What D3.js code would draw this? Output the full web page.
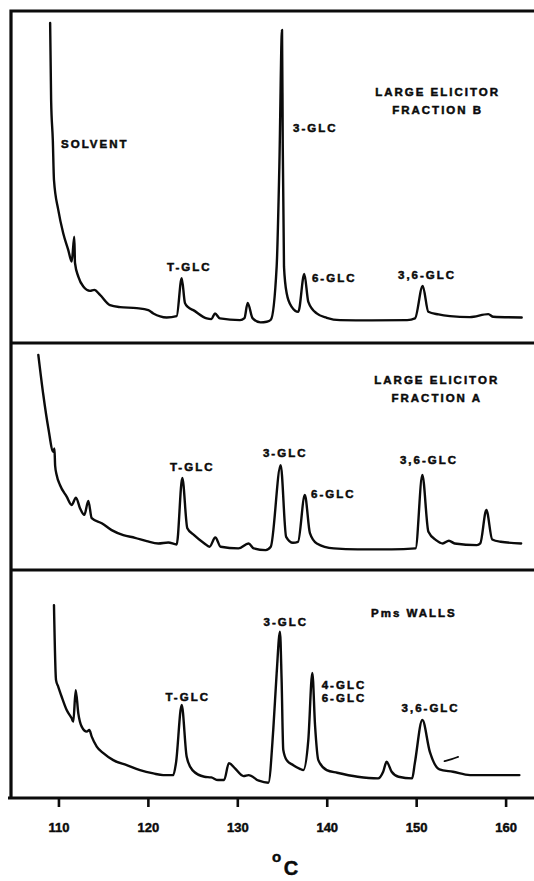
<!DOCTYPE html>
<html>
<head>
<meta charset="utf-8">
<script src="https://cdn.jsdelivr.net/npm/d3@7/dist/d3.min.js"></script>
<style>
  html, body { margin: 0; padding: 0; background: #fff; }
  svg { display: block; }
  .lbl {
    font-family: 'Liberation Sans', Arial, Helvetica, sans-serif;
    font-weight: bold;
    font-size: 11.5px;
    letter-spacing: 2.0px;
    fill: #0b0b0b;
    stroke: #0b0b0b;
    stroke-width: 0.5px;
  }
  .heavy { stroke: #0b0b0b; stroke-width: 0.45px; }
</style>
</head>
<body>
<svg id="chart" width="534" height="881"></svg>
<script>
// Column temperature (°C) and detector response (% of top-panel full scale)

// Large elicitor, fraction B
const traceFractionB = [
  [109.07, 96.4], [109.18, 73.2], [109.37, 61.1], [109.50, 49.1], [109.98, 40.1], [110.54, 33.0],
  [111.10, 28.0], [111.48, 24.5], [111.77, 32.0], [111.85, 24.1], [112.22, 20.0],
  [112.78, 17.0], [113.53, 15.7], [114.01, 16.0], [114.65, 14.5], [115.76, 11.4],
  [116.88, 10.8], [118.75, 10.5], [120.05, 9.9], [120.61, 8.9], [122.10, 7.7],
  [123.22, 8.1], [123.78, 19.5], [124.15, 12.0], [124.50, 10.8], [125.08, 9.9],
  [126.58, 7.4], [127.10, 7.2], [127.50, 8.9], [128.06, 7.4], [130.30, 6.9],
  [130.80, 7.5], [131.16, 12.1], [131.70, 7.5], [132.60, 6.2], [133.29, 6.4],
  [133.75, 7.0], [134.40, 23.0], [134.70, 53.1], [135.00, 94.3], [135.08, 60.2],
  [135.22, 23.0], [135.52, 15.0], [136.08, 10.9], [136.82, 9.4], [137.49, 20.8],
  [137.94, 12.4], [138.88, 8.9], [140.00, 7.6], [141.49, 6.9], [145.00, 6.8],
  [149.00, 6.9], [149.87, 7.4], [150.73, 17.2], [151.36, 9.4], [152.50, 8.6],
  [153.78, 8.1], [156.00, 7.8], [158.07, 8.7], [158.62, 7.9], [161.80, 7.7]
];

// Large elicitor, fraction A
const traceFractionA = [
  [107.75, 64.8], [108.31, 52.7], [108.87, 42.7], [109.42, 35.6], [109.55, 36.6],
  [109.63, 31.4], [109.80, 28.6], [110.17, 25.6], [110.92, 22.1], [111.48, 19.6],
  [111.96, 21.8], [112.41, 18.6], [112.89, 16.6], [113.34, 20.8], [113.72, 15.6],
  [114.84, 14.1], [115.95, 12.0], [117.25, 10.5], [118.56, 9.7], [119.87, 8.7],
  [121.17, 8.0], [122.28, 8.3], [123.22, 7.7], [123.85, 27.7], [124.41, 12.6],
  [125.17, 10.5], [126.32, 8.0], [126.89, 7.0], [127.54, 9.8], [128.14, 7.0],
  [130.12, 6.5], [131.26, 8.0], [131.84, 6.5], [133.17, 6.0], [133.74, 7.0],
  [134.85, 31.6], [135.46, 10.0], [136.22, 8.2], [136.79, 8.5], [137.55, 22.6],
  [138.12, 11.1], [138.89, 8.0], [140.79, 6.5], [143.46, 6.2], [147.26, 6.2],
  [149.93, 6.5], [150.69, 28.6], [151.37, 11.5], [152.22, 9.0], [152.97, 8.0],
  [153.66, 8.8], [154.31, 8.0], [156.79, 7.5], [157.17, 8.0], [157.85, 18.1],
  [158.50, 9.2], [159.45, 8.5], [161.74, 8.0]
];

// Pms cell walls
const traceWalls = [
  [109.50, 58.1], [109.73, 35.5], [109.98, 33.5], [110.36, 30.5], [110.92, 26.5],
  [111.48, 24.0], [111.66, 23.0], [111.93, 32.5], [112.22, 25.5], [112.60, 21.5],
  [113.16, 20.0], [113.45, 20.5], [113.72, 18.5], [114.28, 15.5], [115.02, 13.5],
  [116.13, 11.4], [117.63, 9.9], [119.12, 8.4], [120.61, 7.4], [121.72, 6.9],
  [122.84, 6.9], [123.14, 10.5], [123.78, 28.0], [124.34, 12.4], [124.98, 8.4],
  [126.32, 6.4], [127.08, 6.2], [127.84, 5.4], [128.52, 5.4], [129.06, 10.5],
  [129.74, 8.9], [130.69, 6.6], [131.26, 6.9], [132.41, 5.2], [133.47, 4.6],
  [134.02, 20.5], [134.40, 37.6], [134.77, 50.1], [134.95, 36.0], [135.14, 14.5],
  [135.52, 11.4], [136.26, 9.9], [137.00, 8.8], [137.38, 8.4], [137.94, 17.5],
  [138.39, 37.7], [138.69, 22.0], [139.06, 11.4], [140.00, 8.4], [141.17, 7.6],
  [143.46, 6.4], [145.74, 5.9], [146.31, 7.9], [146.69, 10.9], [147.26, 7.9],
  [148.03, 6.4], [149.55, 5.9], [149.85, 10.5], [150.69, 23.5], [151.53, 13.9],
  [152.60, 8.6], [154.12, 7.9], [156.02, 6.9], [158.69, 6.9], [161.54, 6.9]
];
// short pen stroke beside the 3,6-GLC peak of the wall trace
const wallsPenMark = [[153.17, 11.1], [154.00, 11.7], [154.69, 12.4]];

const tickTemps = [110, 120, 130, 140, 150, 160];

// Peak / sample annotations: [text, temperature, response]
const labelsFractionB = [
  ["SOLVENT", 110.29, 58.7],
  ["3-GLC", 136.23, 63.6],
  ["T-GLC", 122.14, 21.7],
  ["6-GLC", 138.35, 18.4],
  ["3,6-GLC", 147.97, 19.3]
];
const titleFractionB = [["LARGE ELICITOR", 152.40, 74.4], ["FRACTION B", 152.40, 69.0]];

const labelsFractionA = [
  ["T-GLC", 122.47, 29.8],
  ["3-GLC", 132.87, 34.0],
  ["6-GLC", 138.24, 21.7],
  ["3,6-GLC", 148.19, 31.9]
];
const titleFractionA = [["LARGE ELICITOR", 152.30, 56.0], ["FRACTION A", 152.30, 50.6]];

const labelsWalls = [
  ["Pms WALLS", 144.95, 54.5],
  ["3-GLC", 132.93, 51.8],
  ["4-GLC", 139.44, 32.8],
  ["6-GLC", 139.44, 28.9],
  ["T-GLC", 121.97, 29.2],
  ["3,6-GLC", 148.37, 25.9]
];

// ---- layout ----
const svg = d3.select("#chart");
const frame = { left: 11, top: 11, right: 548, bottom: 798 };
const dividers = [343, 570];
const panelEdges = [frame.top, dividers[0], dividers[1], frame.bottom];

const x = d3.scaleLinear().domain([110, 160]).range([58.45, 505.6]);

// one response unit has the same height in every panel
const pxPerUnit = (panelEdges[1] - panelEdges[0]) / 100;
const yScales = [0, 1, 2].map(i => d3.scaleLinear()
  .domain([0, (panelEdges[i + 1] - panelEdges[i]) / pxPerUnit])
  .range([panelEdges[i + 1], panelEdges[i]]));

// frame and panel separators
const ink = "#0b0b0b";
svg.append("path")
  .attr("d", `M${frame.right},${frame.top}H${frame.left}V${frame.bottom}`)
  .attr("fill", "none").attr("stroke", ink).attr("stroke-width", 3.2);
svg.append("line")
  .attr("x1", 8).attr("x2", frame.right)
  .attr("y1", frame.bottom).attr("y2", frame.bottom)
  .attr("stroke", ink).attr("stroke-width", 3.2);
dividers.forEach(d => svg.append("line")
  .attr("x1", frame.left).attr("x2", frame.right)
  .attr("y1", d).attr("y2", d)
  .attr("stroke", ink).attr("stroke-width", 3.2));

// traces
const panels = [
  { trace: traceFractionB, labels: labelsFractionB, title: titleFractionB },
  { trace: traceFractionA, labels: labelsFractionA, title: titleFractionA },
  { trace: traceWalls, labels: labelsWalls, title: [] }
];

panels.forEach((p, i) => {
  const y = yScales[i];
  const line = d3.line().curve(d3.curveMonotoneX).x(d => x(d[0])).y(d => y(d[1]));
  svg.append("path")
    .attr("d", line(p.trace))
    .attr("fill", "none").attr("stroke", ink)
    .attr("stroke-width", 2.4)
    .attr("stroke-linejoin", "round").attr("stroke-linecap", "round");

  svg.selectAll(null).data(p.labels).enter().append("text")
    .attr("class", "lbl")
    .attr("x", d => x(d[1])).attr("y", d => y(d[2]))
    .attr("text-anchor", "start")
    .text(d => d[0]);

  svg.selectAll(null).data(p.title).enter().append("text")
    .attr("class", "lbl")
    .attr("x", d => x(d[1])).attr("y", d => y(d[2]))
    .attr("text-anchor", "middle")
    .text(d => d[0]);
});

svg.append("path")
  .attr("d", d3.line().curve(d3.curveBasis).x(d => x(d[0])).y(d => yScales[2](d[1]))(wallsPenMark))
  .attr("fill", "none").attr("stroke", ink).attr("stroke-width", 1.8)
  .attr("stroke-linecap", "round");

// temperature axis
const axis = svg.append("g")
  .attr("transform", `translate(0,${frame.bottom})`)
  .call(d3.axisBottom(x).tickValues(tickTemps).tickSize(9).tickPadding(16).tickSizeOuter(0));
axis.select(".domain").remove();
axis.selectAll(".tick line").attr("stroke", ink).attr("stroke-width", 2.6);
axis.selectAll(".tick text")
  .attr("class", "heavy")
  .attr("fill", ink)
  .style("font-family", "'Liberation Sans', Arial, Helvetica, sans-serif")
  .style("font-weight", "bold")
  .style("font-size", "13px");

// unit label
const unit = svg.append("g").attr("fill", ink).attr("class", "heavy")
  .style("font-family", "'Liberation Sans', Arial, Helvetica, sans-serif")
  .style("font-weight", "bold");
unit.append("text").attr("x", 276.5).attr("y", 862).attr("text-anchor", "middle")
  .style("font-size", "15px").text("o");
unit.append("text").attr("x", 291).attr("y", 875).attr("text-anchor", "middle")
  .style("font-size", "20px").text("C");
</script>
</body>
</html>
